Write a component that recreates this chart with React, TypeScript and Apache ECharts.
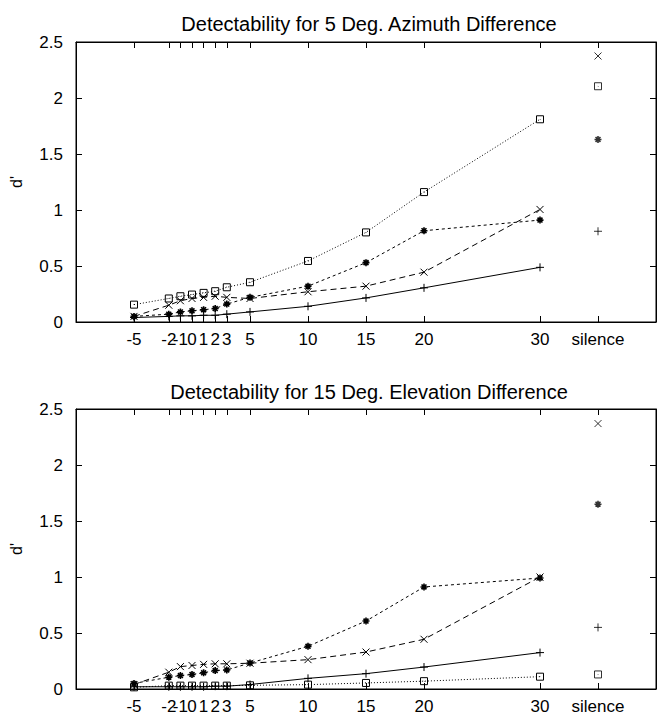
import React, { useEffect, useRef } from "react";
import * as echarts from "echarts";

// ---- data ----
const X_VALUES = [-5, -2, -1, 0, 1, 2, 3, 5, 10, 15, 20, 30];
const SILENCE_X = 35;
const TICK_VALUES = [-5, -2, -1, 0, 1, 2, 3, 5, 10, 15, 20, 30, 35];

const TITLE_TOP = "Detectability for 5 Deg. Azimuth Difference";
const TITLE_BOTTOM = "Detectability for 15 Deg. Elevation Difference";

// Azimuth (top)
const AZ_PLUS = [0.04, 0.05, 0.055, 0.055, 0.06, 0.06, 0.07, 0.09, 0.14, 0.215, 0.305, 0.488];
const AZ_PLUS_SIL = 0.81;
const AZ_CROSS = [0.05, 0.15, 0.19, 0.21, 0.22, 0.23, 0.22, 0.21, 0.27, 0.32, 0.445, 1.005];
const AZ_CROSS_SIL = 2.375;
const AZ_STAR = [0.05, 0.07, 0.09, 0.1, 0.11, 0.12, 0.16, 0.22, 0.32, 0.53, 0.815, 0.91];
const AZ_STAR_SIL = 1.63;
const AZ_BOX = [0.155, 0.21, 0.23, 0.245, 0.26, 0.275, 0.31, 0.355, 0.545, 0.8, 1.16, 1.81];
const AZ_BOX_SIL = 2.105;

// Elevation (bottom)
const EL_PLUS = [0.02, 0.02, 0.02, 0.02, 0.02, 0.025, 0.025, 0.04, 0.095, 0.137, 0.196, 0.325];
const EL_PLUS_SIL = 0.55;
const EL_CROSS = [0.04, 0.15, 0.2, 0.21, 0.22, 0.225, 0.225, 0.23, 0.262, 0.33, 0.444, 1.0];
const EL_CROSS_SIL = 2.37;
const EL_STAR = [0.05, 0.105, 0.12, 0.13, 0.145, 0.165, 0.17, 0.232, 0.381, 0.607, 0.911, 0.991];
const EL_STAR_SIL = 1.65;
const EL_BOX = [0.015, 0.03, 0.03, 0.03, 0.03, 0.03, 0.03, 0.033, 0.039, 0.054, 0.07, 0.11];
const EL_BOX_SIL = 0.13;

const FONT = "'Liberation Sans', Arial, Helvetica, sans-serif";

const SYM_PLUS = "path://M5 0L5 10M0 5L10 5";
const SYM_CROSS = "path://M0 0L10 10M10 0L0 10";
const SYM_STAR = "path://M5 0L5 10M0 5L10 5M1.5 1.5L8.5 8.5M8.5 1.5L1.5 8.5";
const SYM_BOX = "path://M0 0L10 0L10 10L0 10ZM4.6 4.6L5.4 5.4";

type Kind = { sym: string; dash: any; size: number; bw: number };
const KINDS: Kind[] = [
  { sym: SYM_PLUS, dash: "solid", size: 8, bw: 1 },
  { sym: SYM_CROSS, dash: [6, 4], size: 7, bw: 1 },
  { sym: SYM_STAR, dash: [3, 3], size: 7, bw: 1.6 },
  { sym: SYM_BOX, dash: [1, 2], size: 7, bw: 1 },
];

function seriesFor(vals: number[], sil: number, kind: Kind, xi: number, yi: number) {
  const line = {
    type: "line",
    xAxisIndex: xi,
    yAxisIndex: yi,
    data: X_VALUES.map((x, i) => [x, vals[i]]),
    symbol: kind.sym,
    symbolSize: kind.size,
    showSymbol: true,
    lineStyle: { color: "#000", width: 1, type: kind.dash },
    itemStyle: { color: "rgba(0,0,0,0)", borderColor: "#000", borderWidth: kind.bw },
    z: 3,
    silent: true,
  };
  const pt = {
    type: "scatter",
    xAxisIndex: xi,
    yAxisIndex: yi,
    data: [[SILENCE_X, sil]],
    symbol: kind.sym,
    symbolSize: kind.size,
    itemStyle: { color: "rgba(0,0,0,0)", borderColor: "#000", borderWidth: kind.bw },
    z: 3,
    silent: true,
  };
  return [line, pt];
}

function xAxes(gridIndex: number) {
  const base = {
    type: "value",
    gridIndex,
    min: -10,
    max: 40,
    splitLine: { show: false },
  };
  return [
    {
      ...base,
      position: "bottom",
      axisLine: { show: true, onZero: false, lineStyle: { color: "#000", width: 1 } },
      axisTick: { show: true, inside: true, length: 6, customValues: TICK_VALUES, lineStyle: { color: "#000" } },
      axisLabel: {
        show: true,
        customValues: TICK_VALUES,
        margin: 9,
        color: "#000",
        fontSize: 17,
        fontFamily: FONT,
        formatter: (v: number) => (v === SILENCE_X ? "silence" : String(v)),
      },
    },
    {
      ...base,
      position: "top",
      axisLine: { show: true, onZero: false, lineStyle: { color: "#000", width: 1 } },
      axisTick: { show: true, inside: true, length: 6, customValues: TICK_VALUES, lineStyle: { color: "#000" } },
      axisLabel: { show: false },
    },
  ];
}

function yAxes(gridIndex: number) {
  const base = {
    type: "value",
    gridIndex,
    min: 0,
    max: 2.5,
    interval: 0.5,
    splitLine: { show: false },
  };
  return [
    {
      ...base,
      position: "left",
      name: "d'",
      nameLocation: "middle",
      nameRotate: 90,
      nameGap: 52,
      nameTextStyle: { color: "#000", fontSize: 16, fontFamily: FONT },
      axisLine: { show: true, onZero: false, lineStyle: { color: "#000", width: 1 } },
      axisTick: { show: true, inside: true, length: 6, lineStyle: { color: "#000" } },
      axisLabel: {
        show: true,
        margin: 13,
        color: "#000",
        fontSize: 17,
        fontFamily: FONT,
        formatter: (v: number) => String(v),
      },
    },
    {
      ...base,
      position: "right",
      axisLine: { show: true, onZero: false, lineStyle: { color: "#000", width: 1 } },
      axisTick: { show: true, inside: true, length: 6, lineStyle: { color: "#000" } },
      axisLabel: { show: false },
    },
  ];
}

export default function App() {
  const ref = useRef<HTMLDivElement>(null);
  useEffect(() => {
    document.body.style.margin = "0";
    if (!ref.current) return;
    const chart = echarts.init(ref.current, null, { renderer: "svg" });
    const top = [
      ...seriesFor(AZ_PLUS, AZ_PLUS_SIL, KINDS[0], 0, 0),
      ...seriesFor(AZ_CROSS, AZ_CROSS_SIL, KINDS[1], 0, 0),
      ...seriesFor(AZ_STAR, AZ_STAR_SIL, KINDS[2], 0, 0),
      ...seriesFor(AZ_BOX, AZ_BOX_SIL, KINDS[3], 0, 0),
    ];
    const bottom = [
      ...seriesFor(EL_PLUS, EL_PLUS_SIL, KINDS[0], 2, 2),
      ...seriesFor(EL_CROSS, EL_CROSS_SIL, KINDS[1], 2, 2),
      ...seriesFor(EL_STAR, EL_STAR_SIL, KINDS[2], 2, 2),
      ...seriesFor(EL_BOX, EL_BOX_SIL, KINDS[3], 2, 2),
    ];
    chart.setOption({
      animation: false,
      backgroundColor: "#fff",
      title: [
        {
          text: TITLE_TOP,
          left: 364,
          top: 9,
          textAlign: "center",
          textStyle: { color: "#000", fontSize: 20, fontWeight: "normal", fontFamily: FONT },
        },
        {
          text: TITLE_BOTTOM,
          left: 364,
          top: 377,
          textAlign: "center",
          textStyle: { color: "#000", fontSize: 20, fontWeight: "normal", fontFamily: FONT },
        },
      ],
      grid: [
        { left: 76, top: 42, width: 580, height: 280, show: true, borderColor: "#000", borderWidth: 1, backgroundColor: "transparent" },
        { left: 76, top: 409, width: 580, height: 280, show: true, borderColor: "#000", borderWidth: 1, backgroundColor: "transparent" },
      ],
      xAxis: [...xAxes(0), ...xAxes(1)],
      yAxis: [...yAxes(0), ...yAxes(1)],
      series: [...top, ...bottom],
    });
    return () => chart.dispose();
  }, []);
  return <div ref={ref} style={{ width: 661, height: 715 }} />;
}
